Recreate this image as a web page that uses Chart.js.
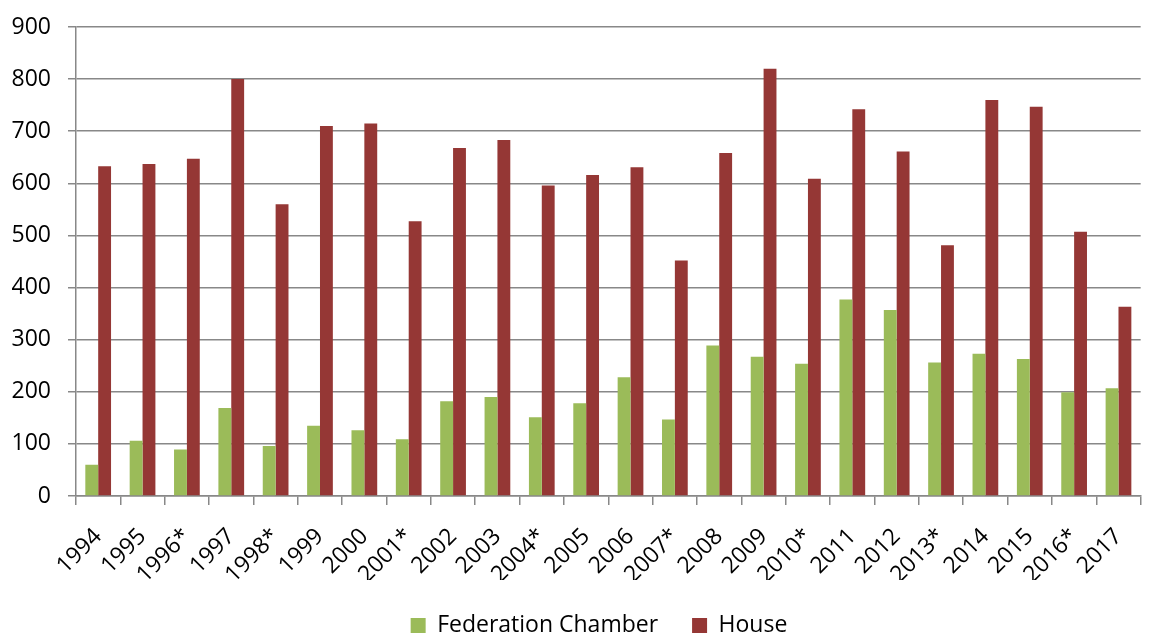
<!DOCTYPE html>
<html>
<head>
<meta charset="utf-8">
<script src="https://cdn.jsdelivr.net/npm/chart.js@4/dist/chart.umd.min.js"></script>
<style>
  html, body { margin: 0; padding: 0; background: #fff; }
  #wrap { width: 1156px; height: 635px; }
</style>
</head>
<body>
<div id="wrap"><canvas id="chart"></canvas></div>
<script>
const years = ["1994", "1995", "1996*", "1997", "1998*", "1999", "2000", "2001*", "2002", "2003", "2004*", "2005",
  "2006", "2007*", "2008", "2009", "2010*", "2011", "2012", "2013*", "2014", "2015", "2016*", "2017"];
const federationChamber = [60, 106, 89, 169, 96, 135, 126, 109, 182, 190, 151, 178,
  228, 147, 289, 267, 254, 377, 357, 256, 273, 263, 199, 207];
const house = [633, 637, 647, 800, 560, 710, 715, 527, 668, 683, 596, 616,
  631, 452, 658, 820, 609, 742, 661, 481, 760, 747, 507, 363];
const yTicks = [0, 100, 200, 300, 400, 500, 600, 700, 800, 900];

const gridColor = "#888888";
const font = { family: "'Open Sans', sans-serif", size: 23 };

// el legend del original no está centrado en el canvas, lo corro un poco
const legendShift = {
  id: "legendShift",
  afterLayout(chart) {
    chart.legend.left += 21;
    chart.legend.right += 21;
  },
};

const ctx = document.getElementById("chart").getContext("2d");
new Chart(ctx, {
  type: "bar",
  data: {
    labels: years,
    datasets: [
      {
        label: "Federation Chamber",
        data: federationChamber,
        backgroundColor: "#9bbb59",
        categoryPercentage: 0.58,
        barPercentage: 1.0,
      },
      {
        label: "House",
        data: house,
        backgroundColor: "#953735",
        categoryPercentage: 0.58,
        barPercentage: 1.0,
      },
    ],
  },
  options: {
    responsive: true,
    maintainAspectRatio: false,
    animation: false,
    layout: { padding: { top: 27, right: 0, bottom: -12, left: 0 } },
    scales: {
      x: {
        afterFit: (scale) => {
          scale.height = 84;
        },
        grid: { offset: true, drawOnChartArea: false, drawTicks: true, tickLength: 9, color: gridColor, lineWidth: 1.5 },
        border: { color: gridColor, width: 1.5 },
        ticks: { font: font, color: "#000", minRotation: 45, maxRotation: 45, autoSkip: false, padding: 18 },
      },
      y: {
        min: 0,
        max: 900,
        afterBuildTicks: (scale) => {
          scale.ticks = yTicks.map((v) => ({ value: v }));
        },
        afterFit: (scale) => {
          scale.width = 76;
          scale.paddingTop = 0;
          scale.paddingBottom = 0;
        },
        grid: { color: gridColor, lineWidth: 1.5, tickLength: 8 },
        border: { color: gridColor, width: 1.5 },
        ticks: { font: font, color: "#000", padding: 17 },
      },
    },
    plugins: {
      legend: {
        position: "bottom",
        labels: {
          font: { family: "'Open Sans', sans-serif", size: 23 },
          color: "#000",
          boxWidth: 15,
          boxHeight: 15,
          padding: 34,
        },
      },
      tooltip: { enabled: false },
    },
  },
  plugins: [legendShift],
});
</script>
</body>
</html>
